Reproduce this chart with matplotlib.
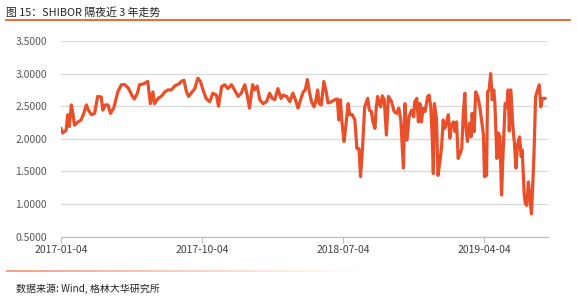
import matplotlib
matplotlib.use("Agg")
import matplotlib.pyplot as plt
import matplotlib.dates as mdates
import numpy as np
import pandas as pd
from matplotlib.collections import LineCollection

plt.rcParams['font.family'] = ['Noto Sans CJK SC', 'DejaVu Sans']

dates = [
    "2017-01-04", "2017-01-07", "2017-01-14", "2017-01-17", "2017-01-20", "2017-01-24", "2017-01-27", "2017-01-30",
    "2017-02-06", "2017-02-12", "2017-02-17", "2017-02-22", "2017-02-26", "2017-03-04", "2017-03-10", "2017-03-16",
    "2017-03-23", "2017-03-26", "2017-03-31", "2017-04-05", "2017-04-10", "2017-04-16", "2017-04-24", "2017-05-01",
    "2017-05-08", "2017-05-15", "2017-05-21", "2017-05-26", "2017-06-01", "2017-06-05", "2017-06-12", "2017-06-21",
    "2017-06-26", "2017-07-01", "2017-07-04", "2017-07-11", "2017-07-17", "2017-07-24", "2017-07-30", "2017-08-06",
    "2017-08-12", "2017-08-20", "2017-08-25", "2017-08-30", "2017-09-04", "2017-09-08", "2017-09-13", "2017-09-20",
    "2017-09-26", "2017-10-01", "2017-10-06", "2017-10-12", "2017-10-19", "2017-10-25", "2017-11-01", "2017-11-05",
    "2017-11-11", "2017-11-17", "2017-11-23", "2017-11-30", "2017-12-06", "2017-12-13", "2017-12-19", "2017-12-26",
    "2017-12-31", "2018-01-04", "2018-01-10", "2018-01-14", "2018-01-19", "2018-01-24", "2018-01-30", "2018-02-06",
    "2018-02-12", "2018-02-17", "2018-02-22", "2018-02-28", "2018-03-06", "2018-03-10", "2018-03-17", "2018-03-23",
    "2018-03-29", "2018-04-03", "2018-04-08", "2018-04-13", "2018-04-18", "2018-04-22", "2018-04-26", "2018-04-30",
    "2018-05-04", "2018-05-09", "2018-05-12", "2018-05-16", "2018-05-19", "2018-05-23", "2018-05-28", "2018-06-02",
    "2018-06-05", "2018-06-12", "2018-06-18", "2018-06-23", "2018-06-26", "2018-06-29", "2018-07-02", "2018-07-06",
    "2018-07-09", "2018-07-14", "2018-07-17", "2018-07-22", "2018-07-27", "2018-07-31", "2018-08-04", "2018-08-07",
    "2018-08-11", "2018-08-15", "2018-08-21", "2018-08-24", "2018-08-28", "2018-08-31", "2018-09-04", "2018-09-06",
    "2018-09-09", "2018-09-12", "2018-09-15", "2018-09-18", "2018-09-22", "2018-09-26", "2018-09-30", "2018-10-06",
    "2018-10-11", "2018-10-16", "2018-10-20", "2018-10-24", "2018-10-29", "2018-11-01", "2018-11-05", "2018-11-09",
    "2018-11-14", "2018-11-18", "2018-11-20", "2018-11-24", "2018-11-27", "2018-11-30", "2018-12-03", "2018-12-06",
    "2018-12-10", "2018-12-15", "2018-12-18", "2018-12-21", "2018-12-24", "2018-12-26", "2018-12-28", "2019-01-01",
    "2019-01-04", "2019-01-08", "2019-01-11", "2019-01-14", "2019-01-17", "2019-01-21", "2019-01-24", "2019-01-27",
    "2019-01-30", "2019-02-03", "2019-02-06", "2019-02-09", "2019-02-12", "2019-02-16", "2019-02-19", "2019-02-22",
    "2019-02-25", "2019-02-27", "2019-03-02", "2019-03-06", "2019-03-09", "2019-03-11", "2019-03-15", "2019-03-18",
    "2019-03-22", "2019-03-26", "2019-04-02", "2019-04-04", "2019-04-08", "2019-04-10", "2019-04-13", "2019-04-16",
    "2019-04-19", "2019-04-22", "2019-04-24", "2019-04-28", "2019-05-01", "2019-05-04", "2019-05-07", "2019-05-10",
    "2019-05-14", "2019-05-17", "2019-05-20", "2019-05-22", "2019-05-25", "2019-05-29", "2019-06-01", "2019-06-04",
    "2019-06-07", "2019-06-11", "2019-06-14", "2019-06-16", "2019-06-20", "2019-06-22", "2019-06-25", "2019-06-28",
    "2019-07-01", "2019-07-04", "2019-07-06", "2019-07-09", "2019-07-12", "2019-07-16", "2019-07-19", "2019-07-22",
    "2019-07-25", "2019-07-30",
]

shibor_on = [
    2.16, 2.09, 2.13, 2.37, 2.19, 2.52, 2.39, 2.21,
    2.26, 2.29, 2.39, 2.52, 2.44, 2.37, 2.39, 2.65,
    2.64, 2.44, 2.52, 2.52, 2.39, 2.47, 2.72, 2.83,
    2.83, 2.77, 2.67, 2.61, 2.70, 2.83, 2.84, 2.88,
    2.54, 2.72, 2.54, 2.62, 2.65, 2.72, 2.75, 2.75,
    2.81, 2.84, 2.88, 2.90, 2.72, 2.65, 2.70, 2.77,
    2.93, 2.88, 2.75, 2.62, 2.57, 2.70, 2.67, 2.50,
    2.80, 2.83, 2.77, 2.83, 2.75, 2.65, 2.70, 2.83,
    2.65, 2.47, 2.83, 2.75, 2.81, 2.60, 2.54, 2.57,
    2.70, 2.62, 2.60, 2.77, 2.62, 2.67, 2.65, 2.57,
    2.70, 2.60, 2.47, 2.60, 2.72, 2.75, 2.91, 2.72,
    2.57, 2.49, 2.57, 2.75, 2.54, 2.52, 2.88, 2.70,
    2.55, 2.57, 2.60, 2.61, 2.29, 2.60, 2.26, 1.96,
    2.16, 2.54, 2.37, 2.37, 2.29, 1.85, 1.85, 1.42,
    1.88, 2.49, 2.62, 2.44, 2.42, 2.26, 2.16, 2.44,
    2.65, 2.54, 2.49, 2.66, 2.60, 2.06, 2.65, 2.57,
    2.42, 2.39, 2.47, 2.29, 1.55, 2.54, 1.98, 2.34,
    2.44, 2.34, 2.57, 2.62, 2.26, 2.54, 2.26, 2.47,
    2.42, 2.65, 2.67, 2.49, 1.98, 1.47, 2.54, 2.31,
    1.44, 1.67, 1.88, 2.29, 2.16, 2.26, 2.37, 2.01,
    2.21, 2.26, 2.11, 2.26, 1.70, 1.78, 1.85, 2.39,
    2.70, 2.19, 1.96, 2.24, 2.03, 2.39, 2.11, 2.72,
    2.65, 2.49, 2.06, 1.42, 1.44, 2.72, 2.75, 3.00,
    2.60, 2.75, 2.57, 1.70, 2.09, 2.03, 1.14, 1.78,
    2.54, 2.49, 2.75, 2.12, 2.75, 2.19, 1.93, 1.55,
    1.91, 2.03, 1.73, 1.83, 1.14, 1.01, 0.98, 1.34,
    1.11, 0.85, 1.21, 1.80, 2.65, 2.75, 2.83, 2.49,
    2.62, 2.62,
]

xtick_labels = ["2017-01-04", "2017-10-04", "2018-07-04", "2019-04-04"]
yticks = [0.5, 1.0, 1.5, 2.0, 2.5, 3.0, 3.5]

title = "图 15：SHIBOR 隔夜近 3 年走势"
source = "数据来源: Wind, 格林大华研究所"

LINE = "#E9502A"
ACCENT = "#F05A28"

W, H = 577, 307
fig = plt.figure(figsize=(W / 100, H / 100), dpi=100)
ax = fig.add_axes([61 / W, 1 - 236.7 / H, (548 - 61) / W, (236.7 - 41) / H])

x = pd.to_datetime(dates)
ax.plot(x, shibor_on, color=LINE, lw=2.3, solid_joinstyle='round', zorder=3)

ax.set_ylim(0.5, 3.5)
ax.set_yticks(yticks)
ax.set_yticklabels([f"{v:.4f}" for v in yticks])
ax.set_xlim(pd.Timestamp("2017-01-04"), pd.Timestamp("2019-08-05"))
xt = pd.to_datetime(xtick_labels)
ax.set_xticks(xt)
ax.set_xticklabels(xtick_labels)

ax.grid(axis='y', color='#D9D9D9', lw=0.9, zorder=0)
for s in ['left', 'right', 'top']:
    ax.spines[s].set_visible(False)
ax.spines['bottom'].set_color('#BFBFBF')
ax.spines['bottom'].set_linewidth(0.9)
ax.tick_params(axis='y', length=0, labelsize=7.5, labelcolor='#595959', pad=10)
ax.tick_params(axis='x', length=4, width=0.8, color='#BFBFBF', direction='out',
               labelsize=7.5, labelcolor='#404040', pad=2)

# title and decorations
fig.text(6 / W, 1 - 12 / H, title, fontsize=7.8, color='#222222', va='center', ha='left')
fig.add_artist(plt.Line2D([6 / W, 570 / W], [1 - 20 / H, 1 - 20 / H], color=ACCENT, lw=1.3))

# fading bottom rule
n = 60
xs = np.linspace(6 / W, 360 / W, n + 1)
segs = [[(xs[i], 1 - 271 / H), (xs[i + 1], 1 - 271 / H)] for i in range(n)]
cols = [(0.94, 0.45, 0.30, 0.75 * (1 - i / n)) for i in range(n)]
lc = LineCollection(segs, colors=cols, linewidths=1.3, transform=fig.transFigure)
fig.add_artist(lc)

fig.text(16 / W, 1 - 289 / H, source, fontsize=7.2, color='#222222', va='center', ha='left',
         style='italic')

fig.savefig("out.png", dpi=100)
